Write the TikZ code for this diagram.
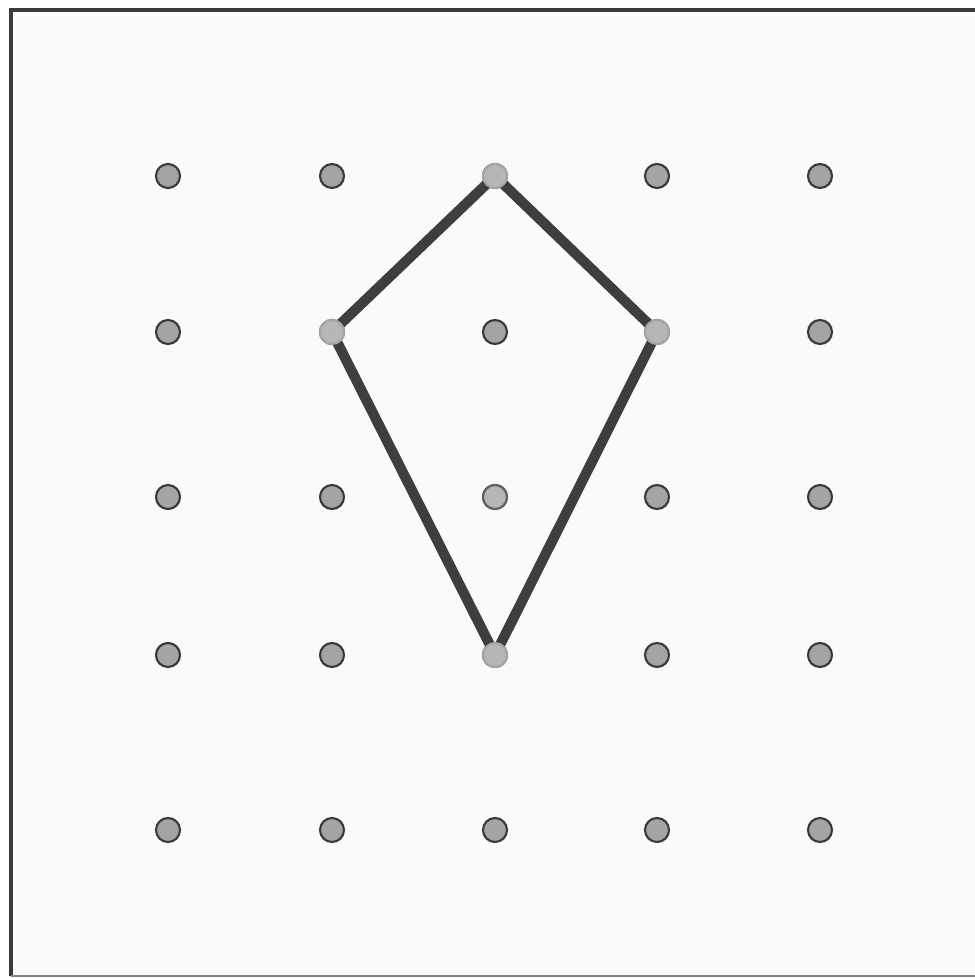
\documentclass[tikz,border=0pt]{standalone}
\usepackage{xcolor}
\usepackage{tikz}
\usetikzlibrary{backgrounds}

\definecolor{pegfill}{HTML}{A4A4A4}
\definecolor{pegline}{HTML}{3A3A3A}
\definecolor{band}{HTML}{3E3E3E}
\definecolor{board}{HTML}{FAFAFA}

\begin{document}
\begin{tikzpicture}[
    x=0.01cm, y=-0.01cm,
    peg/.style={draw=pegline, circle, fill=pegfill, line width=0.6pt,
      minimum size=0.24cm, inner sep=0pt},
    hit/.style={peg, draw=gray!70, fill=pegfill!80},
    rubber/.style={draw=band, line width=2.9pt, line join=round}
]
\useasboundingbox (0,0) rectangle (975,978);

% geoboard pegs
\foreach \col/\x in {1/168, 2/332, 3/495, 4/657, 5/820}
  \foreach \row/\y in {1/176, 2/332, 3/497, 4/655, 5/830}
    \node[peg] (p-\row-\col) at (\x,\y) {};

% kite corners
\node[hit] (top) at (p-1-3) {};
\node[hit] (left) at (p-2-2) {};
\node[hit] (right) at (p-2-4) {};
\node[hit] (bottom) at (p-4-3) {};
\node[hit, draw=pegline!80] (mid) at (p-3-3) {};

\begin{scope}[on background layer]
\fill[board] (11,10) rectangle (975,976);
\draw[line width=1.2pt, pegline] (975,10) -- (11,10) -- (11,976);
\draw[line width=0.5pt, gray] (11,976) -- (975,976);
\draw[rubber] (top.center) -- (right.center) -- (bottom.center)
  -- (left.center) -- cycle;
\end{scope}
\end{tikzpicture}
\end{document}
